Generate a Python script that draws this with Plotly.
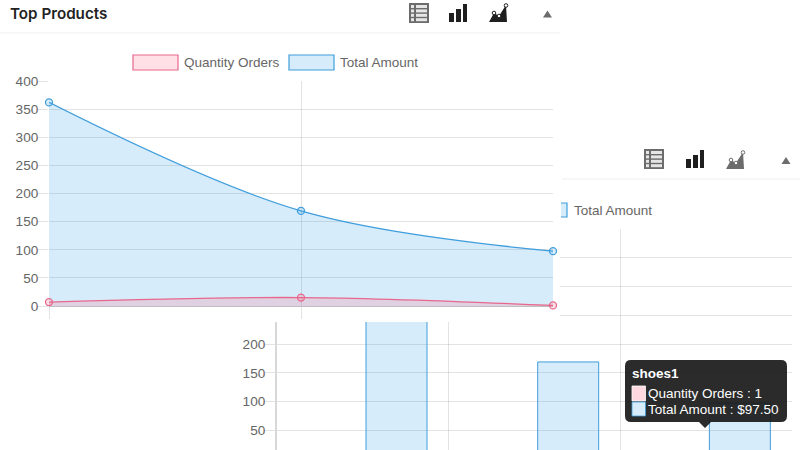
import plotly.graph_objects as go

# Product data
products = ["shoes3", "shoes2", "shoes1"]
quantity_orders = [7, 15, 1]
total_amount = [362, 169, 97.5]
y_ticks = [0, 50, 100, 150, 200, 250, 300, 350, 400]
legend_names = ["Quantity Orders", "Total Amount"]

W, H = 800, 450
PINK = "rgb(232,104,140)"
BLUE = "rgb(64,158,220)"
PINK_FILL = "rgba(255,99,132,0.2)"
BLUE_FILL = "rgba(54,162,235,0.2)"
GRID = "rgba(0,0,0,0.11)"
TEXT = "#666666"
FONT = "Liberation Sans, Arial, sans-serif"


def fx(x):
    return x / W


def fy(y):
    return 1 - y / H


def dom_x(a, b):
    return [fx(a), fx(b)]


def dom_y(top, bottom):
    return [fy(bottom), fy(top)]


def rect(x0, y0, x1, y1, fill, line=None, lw=0):
    return dict(type="rect", xref="paper", yref="paper", layer="above",
                x0=fx(x0), x1=fx(x1), y0=fy(y0), y1=fy(y1), fillcolor=fill,
                line=dict(color=line or "rgba(0,0,0,0)", width=lw))


def path(points, fill="rgba(0,0,0,0)", line=None, lw=0, close=True):
    d = "M" + " L".join(f"{fx(x):.5f},{fy(y):.5f}" for x, y in points)
    d += " Z" if close else ""
    return dict(type="path", xref="paper", yref="paper", layer="above", path=d,
                fillcolor=fill, line=dict(color=line or "rgba(0,0,0,0)", width=lw))


def dot(cx, cy, r, fill, line):
    return dict(type="circle", xref="paper", yref="paper", layer="above",
                x0=fx(cx - r), x1=fx(cx + r), y0=fy(cy + r), y1=fy(cy - r),
                fillcolor=fill, line=dict(color=line, width=1))


def label(x, y, text, size=13.5, color=TEXT, anchor="left", bold=False, family=FONT, weight=None):
    font = dict(family=family, size=size, color=color)
    if weight:
        font["weight"] = weight
    return dict(xref="paper", yref="paper", x=fx(x), y=fy(y), text=f"<b>{text}</b>" if bold else text,
                showarrow=False, xanchor=anchor, yanchor="middle",
                font=font, borderpad=0, borderwidth=0)


def table_icon(x, y, color="#6c6c6c"):
    out = [rect(x, y, x + 20, y + 20, color)]
    for i in range(4):
        top = y + 2 + i * 4.4
        out.append(rect(x + 2, top, x + 5, top + 3, "#e6e6e6"))
        out.append(rect(x + 7, top, x + 18, top + 3, "#e6e6e6"))
    return out


def bars_icon(x, y, color="#1f1f1f"):
    return [rect(x, y + 9, x + 5, y + 18, color),
            rect(x + 7, y + 5, x + 12, y + 18, color),
            rect(x + 14, y, x + 18, y + 18, color)]


def area_icon(x, y, color):
    outline = [(x, y + 18), (x + 5, y + 9), (x + 10, y + 12), (x + 17, y + 1), (x + 18, y + 18)]
    return [path(outline, fill=color),
            dot(x + 5, y + 9, 1.8, "#ffffff", color),
            dot(x + 10, y + 12, 1.8, "#ffffff", color),
            dot(x + 17, y + 1.5, 1.8, "#ffffff", color)]


def collapse_icon(cx, cy):
    return path([(cx - 4.5, cy + 3.5), (cx, cy - 3.5), (cx + 4.5, cy + 3.5)], fill="#6c6c6c")


def rounded_tip(x0, y0, x1, y1, r, tip_x, tip_y, fill):
    def p(x, y):
        return f"{fx(x):.5f},{fy(y):.5f}"
    d = (f"M{p(x0 + r, y0)} L{p(x1 - r, y0)} Q{p(x1, y0)} {p(x1, y0 + r)} L{p(x1, y1 - r)} "
         f"Q{p(x1, y1)} {p(x1 - r, y1)} L{p(tip_x + 6, y1)} L{p(tip_x, tip_y)} L{p(tip_x - 6, y1)} "
         f"L{p(x0 + r, y1)} Q{p(x0, y1)} {p(x0, y1 - r)} L{p(x0, y0 + r)} Q{p(x0, y0)} {p(x0 + r, y0)} Z")
    return dict(type="path", xref="paper", yref="paper", layer="above", path=d,
                fillcolor=fill, line=dict(color="rgba(0,0,0,0)", width=0))


fig = go.Figure()

# Bar view, lying behind the line view
fig.add_trace(go.Bar(x=products, y=quantity_orders, name=legend_names[0], xaxis="x", yaxis="y",
                     marker=dict(color=PINK_FILL, line=dict(color=PINK, width=1))))
fig.add_trace(go.Bar(x=products, y=total_amount, name=legend_names[1], xaxis="x", yaxis="y",
                     marker=dict(color=BLUE_FILL, line=dict(color=BLUE, width=1))))

# White panel of the line view
fig.add_trace(go.Scatter(x=[0, 1], y=[1, 1], mode="none", fill="tozeroy", fillcolor="#ffffff",
                         xaxis="x2", yaxis="y2", hoverinfo="skip"))

# Line view
fig.add_trace(go.Scatter(x=products, y=total_amount, name=legend_names[1], xaxis="x3", yaxis="y3",
                         mode="lines+markers", fill="tozeroy", fillcolor=BLUE_FILL, cliponaxis=False,
                         line=dict(color=BLUE, width=1.3, shape="spline", smoothing=1.0),
                         marker=dict(size=7, color=BLUE_FILL, line=dict(color=BLUE, width=1.3))))
fig.add_trace(go.Scatter(x=products, y=quantity_orders, name=legend_names[0], xaxis="x3", yaxis="y3",
                         mode="lines+markers", fill="tozeroy", fillcolor=PINK_FILL, cliponaxis=False,
                         line=dict(color=PINK, width=1.3, shape="spline", smoothing=1.0),
                         marker=dict(size=7, color=PINK_FILL, line=dict(color=PINK, width=1.3))))

shapes = []
# Header rules
shapes.append(path([(0, 33), (560, 33)], line="#eeeeee", lw=1, close=False))
shapes.append(path([(562, 179), (800, 179)], line="#eeeeee", lw=1, close=False))

# Legend swatches
shapes.append(rect(133, 55, 178, 70, PINK_FILL, PINK, 1.2))
shapes.append(rect(289, 55, 334, 70, BLUE_FILL, BLUE, 1.2))
shapes.append(path([(561, 203), (567, 203), (567, 217), (561, 217)], fill=BLUE_FILL, line=BLUE, lw=1.2, close=False))

# Header toolbar icons
shapes += table_icon(409, 3) + bars_icon(449, 4) + area_icon(489, 4, "#1f1f1f") + [collapse_icon(547.5, 14)]
shapes += table_icon(644, 149) + bars_icon(686, 150) + area_icon(726, 151, "#6c6c6c") + [collapse_icon(786, 160.5)]

# Tooltip
shapes.append(rounded_tip(625, 360, 787, 422, 6, 705, 428, "rgba(25,25,25,0.92)"))
shapes.append(rect(632, 386, 645.5, 401, "#ffd8e0", "#ffffff", 0.8))
shapes.append(rect(632, 402, 645.5, 416, "#d7ecfb", BLUE, 0.8))

annotations = [
    label(10, 14, "Top Products", size=15.2, color="#222222", family="Inter, Liberation Sans, sans-serif", weight=600),
    label(184, 62.5, legend_names[0]),
    label(340, 62.5, legend_names[1]),
    label(574, 210, legend_names[1]),
    label(632, 373, products[2], color="#ffffff", bold=True),
    label(648, 393.5, f"{legend_names[0]} : {quantity_orders[2]}", color="#ffffff"),
    label(648, 409, f"{legend_names[1]} : ${total_amount[2]:.2f}", color="#ffffff"),
]

fig.update_layout(
    width=W, height=H, autosize=False,
    margin=dict(l=0, r=0, t=0, b=0, pad=0, autoexpand=False),
    paper_bgcolor="#ffffff", plot_bgcolor="rgba(0,0,0,0)",
    showlegend=False, hovermode=False,
    barmode="group", bargap=0.215, bargroupgap=0.095,
    font=dict(family=FONT, size=14, color=TEXT),
    shapes=shapes, annotations=annotations,
    xaxis=dict(domain=dom_x(277, 792), anchor="y", type="category", categoryorder="array",
               categoryarray=products, range=[-0.5, 2.5], tickmode="array", tickvals=[-0.5, 0.5, 1.5],
               showticklabels=False, showgrid=True, gridcolor=GRID, gridwidth=1, ticks="", zeroline=False),
    yaxis=dict(domain=dom_y(229, 450), anchor="x", range=[16, 400], tickmode="array", tickvals=y_ticks,
               showgrid=True, gridcolor=GRID, ticks="outside", ticklen=10, tickcolor=GRID, tickwidth=1,
               showline=True, linecolor="#d8d8d8", linewidth=2, zeroline=False, ticklabelstandoff=-3,
               tickfont=dict(family=FONT, size=13.6, color=TEXT)),
    xaxis2=dict(domain=dom_x(0, 560), anchor="y2", range=[0, 1], visible=False),
    yaxis2=dict(domain=dom_y(0, 322), anchor="x2", range=[0, 1], visible=False),
    xaxis3=dict(domain=dom_x(49, 553), anchor="y3", type="category", categoryorder="array",
                categoryarray=products, range=[0, 2], tickmode="array", tickvals=products[:2],
                showticklabels=False, showgrid=True, gridcolor=GRID, ticks="outside", ticklen=12,
                tickcolor=GRID, tickwidth=1, zeroline=False),
    yaxis3=dict(domain=dom_y(81, 306), anchor="x3", range=[0, 400], tickmode="array", tickvals=y_ticks,
                showgrid=True, gridcolor=GRID, ticks="outside", ticklen=10, tickcolor=GRID, tickwidth=1,
                zeroline=True, zerolinecolor="rgba(0,0,0,0.25)", zerolinewidth=1, ticklabelstandoff=-3,
                tickfont=dict(family=FONT, size=13.6, color=TEXT)),
)

fig.write_html("out.html", config=dict(displayModeBar=False))
